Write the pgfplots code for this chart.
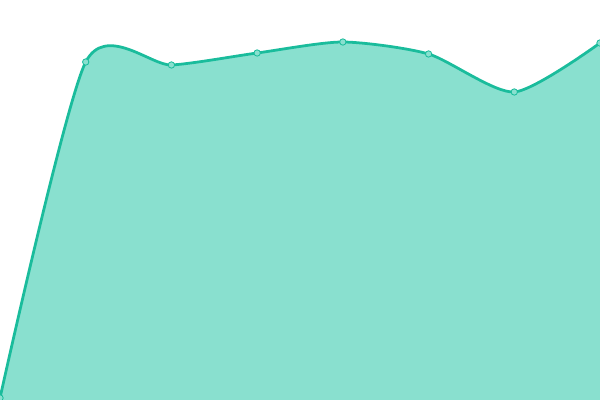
\documentclass[border=0pt]{standalone}
\usepackage{pgfplots}
\pgfplotsset{compat=1.18}
\definecolor{lineC}{RGB}{26,188,156}
\definecolor{fillC}{RGB}{137,224,207}
\begin{document}
\begin{tikzpicture}
\begin{axis}[
  hide axis, scale only axis,
  width=6in, height=4in,
  xmin=0, xmax=7, ymin=0, ymax=400,
]
\addplot[draw=none, fill=fillC, smooth, tension=0.42] coordinates {
  (0,2) (1,338) (2,335) (3,347) (4,358) (5,346) (6,308) (7,357)
} \closedcycle;
\addplot[lineC, line width=2pt, smooth, tension=0.42,
  mark=*, mark size=2.3pt,
  mark options={fill=fillC, draw=lineC, line width=0.6pt}] coordinates {
  (0,2) (1,338) (2,335) (3,347) (4,358) (5,346) (6,308) (7,357)
};
\end{axis}
\pgfresetboundingbox
\path (current axis.south west) rectangle (current axis.north east);
\end{tikzpicture}
\end{document}
